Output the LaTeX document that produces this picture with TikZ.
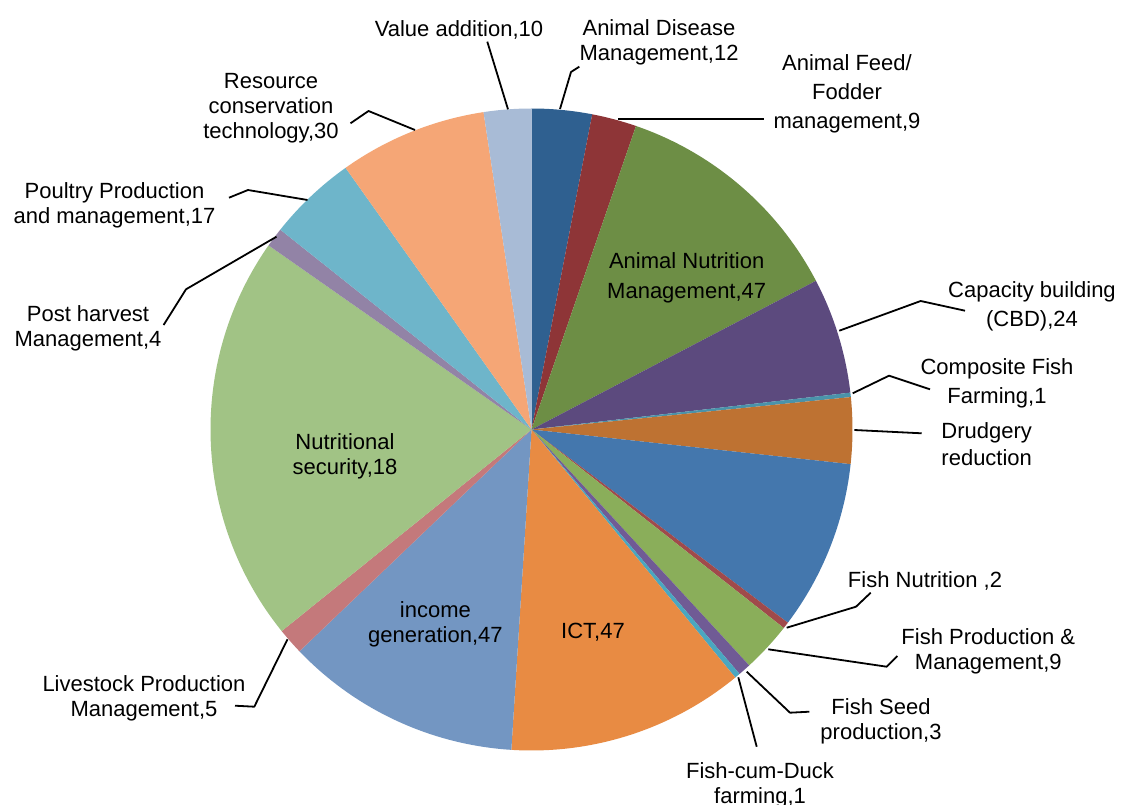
\documentclass[tikz,border=0pt]{standalone}
\usepackage{fontspec}
\setmainfont{Liberation Sans}
\definecolor{cAD}{HTML}{2F6090}
\definecolor{cAF}{HTML}{8E3537}
\definecolor{cAN}{HTML}{6D8E45}
\definecolor{cCB}{HTML}{5C4A7E}
\definecolor{cCF}{HTML}{4A93AA}
\definecolor{cDR}{HTML}{BE7232}
\definecolor{cBL}{HTML}{4477AD}
\definecolor{cFN}{HTML}{A04A4B}
\definecolor{cFP}{HTML}{8AAE5A}
\definecolor{cFS}{HTML}{705B95}
\definecolor{cFD}{HTML}{4AA7C0}
\definecolor{cICT}{HTML}{E88B43}
\definecolor{cIG}{HTML}{7396C2}
\definecolor{cLP}{HTML}{C4797B}
\definecolor{cNS}{HTML}{A1C385}
\definecolor{cPH}{HTML}{9283A6}
\definecolor{cPP}{HTML}{6EB5CA}
\definecolor{cRC}{HTML}{F5A676}
\definecolor{cVA}{HTML}{A8BBD6}
\newcommand\pieslice[3]{\fill[#3] (0,0) -- (#1:321) arc[start angle=#1, end angle=#2, radius=321] -- cycle;}
\begin{document}
\begin{tikzpicture}[x=1pt,y=-1pt,
  lbl/.style={align=center, inner sep=0pt, yshift=-2.5pt, font=\fontsize{22}{25}\selectfont},
  lblw/.style={lbl, font=\fontsize{22}{29}\selectfont},
  leader/.style={line width=1.8pt, black, line join=round}]
\useasboundingbox (0,0) rectangle (1121,805);
\fill[white] (0,0) rectangle (1121,805);
% pie (angles: clockwise from top minus 90)
\begin{scope}[shift={(531.5,429.5)}]
\pieslice{-90}{-79.1}{cAD}
\pieslice{-79.1}{-71}{cAF}
\pieslice{-71}{-27.6}{cAN}
\pieslice{-27.6}{-6.6}{cCB}
\pieslice{-6.6}{-5.8}{cCF}
\pieslice{-5.8}{6.2}{cDR}
\pieslice{6.2}{37}{cBL}
\pieslice{37}{38.2}{cFN}
\pieslice{38.2}{47.3}{cFP}
\pieslice{47.3}{49.6}{cFS}
\pieslice{49.6}{50.6}{cFD}
\pieslice{50.6}{93.6}{cICT}
\pieslice{93.6}{136.3}{cIG}
\pieslice{136.3}{141.1}{cLP}
\pieslice{141.1}{215}{cNS}
\pieslice{215}{218.5}{cPH}
\pieslice{218.5}{234.6}{cPP}
\pieslice{234.6}{261.4}{cRC}
\pieslice{261.4}{270}{cVA}
\end{scope}
% inner labels
\node[lbl, font=\fontsize{22}{30}\selectfont] (anL) at (686.7,275.5) {Animal Nutrition\\Management,47};
\node[lbl] (nsL) at (345,453.5) {Nutritional\\security,18};
\node[lbl] (igL) at (435.4,621.7) {income\\generation,47};
\node[lbl] (ictL) at (593,630) {ICT,47};
% outer labels
\node[lbl] (vaL) at (459,27) {Value addition,10};
\node[lbl] (adL) at (659,39.5) {Animal Disease\\Management,12};
\node[lblw] (afL) at (847,91.7) {Animal Feed/\\Fodder\\management,9};
\node[lblw] (cbL) at (1032,303.8) {Capacity building\\(CBD),24};
\node[lblw] (cfL) at (997,381.3) {Composite Fish\\Farming,1};
\node[lbl, font=\fontsize{22}{26.7}\selectfont] (drL) at (986.7,441.7) {Drudgery\\reduction};
\node[lbl] (fnL) at (925,578.3) {Fish Nutrition ,2};
\node[lbl] (fpL) at (988.3,649.2) {Fish Production \&\\Management,9};
\node[lbl] (fsL) at (881,719.2) {Fish Seed\\production,3};
\node[lbl] (fdL) at (760,782.5) {Fish-cum-Duck\\farming,1};
\node[lbl] (lpL) at (144,696.2) {Livestock Production\\Management,5};
\node[lbl] (phL) at (88,325.5) {Post harvest\\Management,4};
\node[lbl] (ppL) at (114.5,202.5) {Poultry Production\\and management,17};
\node[lbl] (rcL) at (271,105.5) {Resource\\conservation\\technology,30};
% leader coordinates
\coordinate (vaA) at (508,109.3); \coordinate (vaE) at (487.3,41.7);
\coordinate (adA) at (560,109); \coordinate (adB) at (571,72); \coordinate (adE) at (579.3,66.7);
\coordinate (afA) at (618.3,119.3); \coordinate (afE) at (764,119.3);
\coordinate (cbA) at (839.3,330.7); \coordinate (cbB) at (920.7,301); \coordinate (cbE) at (965,310.7);
\coordinate (cfA) at (852.7,393.3); \coordinate (cfB) at (889,375.7); \coordinate (cfE) at (930,389.3);
\coordinate (drA) at (854.3,430); \coordinate (drE) at (921.7,433.3);
\coordinate (fnA) at (786.7,627.7); \coordinate (fnB) at (856,606.7); \coordinate (fnE) at (870.7,592.7);
\coordinate (fpA) at (768.3,649.3); \coordinate (fpB) at (886.7,666.7); \coordinate (fpE) at (897.3,656);
\coordinate (fsA) at (746.7,671.7); \coordinate (fsB) at (790,712.7); \coordinate (fsE) at (809.3,711.7);
\coordinate (fdA) at (738.3,677.3); \coordinate (fdE) at (756.7,746.7);
\coordinate (lpA) at (287.5,639.3); \coordinate (lpB) at (254.3,706.7); \coordinate (lpE) at (235,705.7);
\coordinate (phA) at (276.5,236.7); \coordinate (phB) at (186,289.3); \coordinate (phE) at (163.6,325);
\coordinate (ppA) at (307.5,200); \coordinate (ppB) at (248,190); \coordinate (ppE) at (229,197.7);
\coordinate (rcA) at (415,130); \coordinate (rcB) at (368.5,111); \coordinate (rcE) at (350.5,123.3);
% leaders
\draw[leader] (vaA) -- (vaE);
\draw[leader] (adA) -- (adB) -- (adE);
\draw[leader] (afA) -- (afE);
\draw[leader] (cbA) -- (cbB) -- (cbE);
\draw[leader] (cfA) -- (cfB) -- (cfE);
\draw[leader] (drA) -- (drE);
\draw[leader] (fnA) -- (fnB) -- (fnE);
\draw[leader] (fpA) -- (fpB) -- (fpE);
\draw[leader] (fsA) -- (fsB) -- (fsE);
\draw[leader] (fdA) -- (fdE);
\draw[leader] (lpA) -- (lpB) -- (lpE);
\draw[leader] (phA) -- (phB) -- (phE);
\draw[leader] (ppA) -- (ppB) -- (ppE);
\draw[leader] (rcA) -- (rcB) -- (rcE);
\end{tikzpicture}
\end{document}
